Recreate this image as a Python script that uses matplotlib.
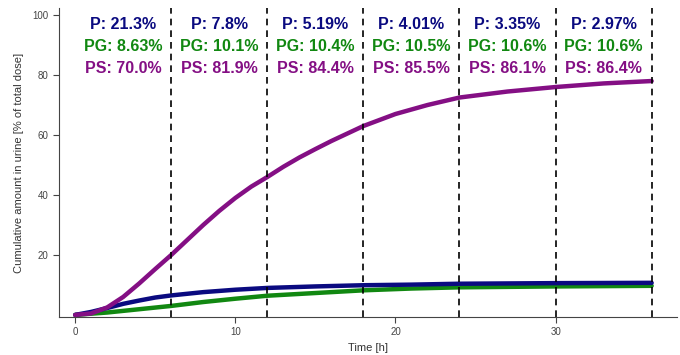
import matplotlib.pyplot as plt

plt.rcParams['font.family'] = ['Liberation Sans', 'DejaVu Sans']

# cumulative urinary excretion, % of total dose
t_p = [0, 1, 2, 3, 4, 5, 6, 8, 10, 12, 15, 18, 21, 24, 30, 36]
p = [0, 1.0, 2.3, 3.7, 4.8, 5.8, 6.5, 7.6, 8.4, 9.0, 9.5, 9.9, 10.1, 10.4, 10.6, 10.7]
t_pg = [0, 2, 4, 6, 8, 10, 12, 15, 18, 21, 24, 30, 36]
pg = [0, 0.8, 1.9, 3.0, 4.3, 5.4, 6.4, 7.3, 8.2, 8.8, 9.2, 9.5, 9.7]
t_ps = [0, 1, 2, 3, 4, 5, 6, 7, 8, 9, 10, 11, 12, 13, 14, 15, 16, 18, 20, 22, 24, 27, 30, 33, 36]
ps = [0, 0.5, 2.5, 6, 10.5, 15.3, 20, 25, 30, 34.7, 39, 42.8, 46, 49.4, 52.5, 55.3,
      58, 63, 67, 70, 72.5, 74.5, 76, 77.2, 78]

intervals = [6, 12, 18, 24, 30, 36]
p_lab = ['21.3%', '7.8%', '5.19%', '4.01%', '3.35%', '2.97%']
pg_lab = ['8.63%', '10.1%', '10.4%', '10.5%', '10.6%', '10.6%']
ps_lab = ['70.0%', '81.9%', '84.4%', '85.5%', '86.1%', '86.4%']

navy = '#0a0a80'
green = '#118811'
purple = '#840f84'

fig = plt.figure(figsize=(6.8, 3.55), dpi=100)
ax = fig.add_axes([0.087, 0.107, 0.909, 0.870])

ax.plot(t_pg, pg, color=green, lw=3.2, solid_capstyle='round', solid_joinstyle='round')
ax.plot(t_p, p, color=navy, lw=3.2, solid_capstyle='round', solid_joinstyle='round')
ax.plot(t_ps, ps, color=purple, lw=3.2, solid_capstyle='round', solid_joinstyle='round')

for x in intervals:
    ax.axvline(x, color='black', ls=(0, (4, 3)), lw=1.2)

for i, x in enumerate(intervals):
    mid = x - 3
    ax.text(mid, 97, 'P: ' + p_lab[i], color=navy, ha='center', va='center',
            fontsize=11.5, fontweight='bold')
    ax.text(mid, 89.6, 'PG: ' + pg_lab[i], color=green, ha='center', va='center',
            fontsize=11.5, fontweight='bold')
    ax.text(mid, 82.2, 'PS: ' + ps_lab[i], color=purple, ha='center', va='center',
            fontsize=11.5, fontweight='bold')

ax.set_xlim(-1, 37.6)
ax.set_ylim(-0.7, 102.3)
ax.set_xticks([0, 10, 20, 30])
ax.set_yticks([20, 40, 60, 80, 100])
ax.spines['top'].set_visible(False)
ax.spines['right'].set_visible(False)
for s in ['left', 'bottom']:
    ax.spines[s].set_color('#444444')
    ax.spines[s].set_linewidth(0.8)
ax.tick_params(colors='#444444', labelsize=7, length=4, width=0.8)
ax.set_xlabel('Time [h]', fontsize=8, color='#333333', labelpad=4)
ax.set_ylabel('Cumulative amount in urine [% of total dose]', fontsize=8,
              color='#333333', labelpad=6)

plt.savefig('out.png', dpi=100)
plt.close()
